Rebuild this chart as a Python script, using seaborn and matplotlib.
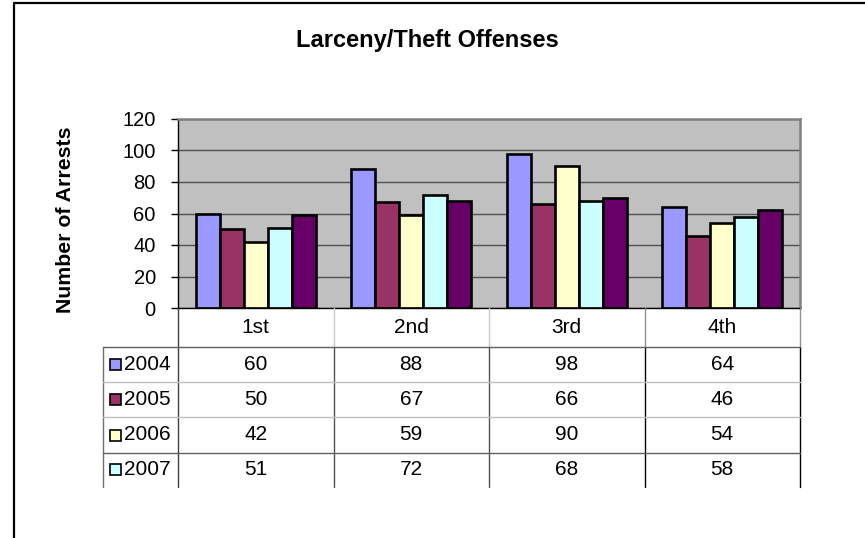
import numpy as np
import pandas as pd
import seaborn as sns
import matplotlib.pyplot as plt
import matplotlib.transforms as mtransforms
from matplotlib.lines import Line2D
from matplotlib.patches import Rectangle

# data
districts = ['1st', '2nd', '3rd', '4th']
years = ['2004', '2005', '2006', '2007', '2008']
arrests_2004 = [60, 88, 98, 64]
arrests_2005 = [50, 67, 66, 46]
arrests_2006 = [42, 59, 90, 54]
arrests_2007 = [51, 72, 68, 58]
arrests_2008 = [59, 68, 70, 62]  # last series, its table row is cut off
colors = ['#9999FF', '#993366', '#FFFFCC', '#CCFFFF', '#660066']
yticks = [0, 20, 40, 60, 80, 100, 120]

series = [arrests_2004, arrests_2005, arrests_2006, arrests_2007, arrests_2008]
df = pd.DataFrame({
    'District': districts * len(years),
    'Year': [y for y in years for _ in districts],
    'Arrests': [v for s in series for v in s],
})

sns.set_theme(style='white')
plt.rcParams['font.family'] = ['Liberation Sans', 'DejaVu Sans']
plt.rcParams['text.color'] = 'black'
plt.rcParams['axes.labelcolor'] = 'black'
FS = 15

W, H = 865, 538
fig = plt.figure(figsize=(W / 100, H / 100), dpi=100)


def fx(x):
    return x / W


def fy(y):
    return 1 - y / H


ax = fig.add_axes([fx(178), fy(308), (800 - 178) / W, (308 - 119) / H])
ax.set_facecolor('#C0C0C0')
sns.barplot(data=df, x='District', y='Arrests', hue='Year', order=districts,
            hue_order=years, palette=colors, saturation=1, width=5 / 6.5,
            edgecolor='black', linewidth=1.9, errorbar=None, legend=False, ax=ax)

ax.set_xlim(-0.5, 3.5)
ax.set_ylim(0, 120)
ax.set_yticks(yticks)
ax.yaxis.grid(True, color='#505050', linewidth=1.0)
ax.set_axisbelow(True)
ax.tick_params(axis='y', left=True, length=5, width=1, color='black',
               pad=11, labelsize=14.5, labelcolor='black')
ax.set_xticks(range(len(districts)), districts)
ax.tick_params(axis='x', bottom=False, length=0, pad=7, labelsize=FS,
               labelcolor='black')
ax.set_xlabel('')
ax.set_ylabel('Number of Arrests', fontsize=15.3, fontweight='bold', va='center')
ax.yaxis.set_label_coords((65.5 - 178) / 622, (308 - 220) / 189)
for s in ['top', 'right']:
    ax.spines[s].set_color('#808080')
    ax.spines[s].set_linewidth(1.8)
for s in ['left', 'bottom']:
    ax.spines[s].set_color('black')
    ax.spines[s].set_linewidth(1.0)

fig.text(fx(427), fy(41), 'Larceny/Theft Offenses', ha='center', va='center',
         fontsize=17, fontweight='bold')

# data table under the plot
blend = mtransforms.blended_transform_factory(ax.transData, fig.transFigure)
rows_y = [308, 346.7, 382.3, 417.3, 452.7, 487]
edges = [-0.5, 0.5, 1.5, 2.5, 3.5]
head_col = ['#404040', '#c8c8c8', '#c8c8c8', '#909090', '#909090']
body_col = ['#404040', '#505050', '#505050', '#000000', '#000000']
for x, c1, c2 in zip(edges, head_col, body_col):
    fig.add_artist(Line2D([x, x], [fy(rows_y[0]), fy(rows_y[1])], transform=blend,
                          color=c1, lw=1.0))
    fig.add_artist(Line2D([x, x], [fy(rows_y[1]), fy(rows_y[-1])], transform=blend,
                          color=c2, lw=1.0))
fig.add_artist(Line2D([fx(103), fx(103)], [fy(rows_y[1]), fy(rows_y[-1])],
                      color='#707070', lw=1.0))
for y, c in zip(rows_y[1:5], ['#606060', '#c0c0c0', '#c0c0c0', '#606060']):
    fig.add_artist(Line2D([fx(103), fx(800)], [fy(y), fy(y)], color=c, lw=1.0))

for i in range(4):
    yc = (rows_y[i + 1] + rows_y[i + 2]) / 2
    fig.add_artist(Rectangle((fx(109.5), fy(yc + 5.5)), 11 / W, 11 / H,
                             transform=fig.transFigure, facecolor=colors[i],
                             edgecolor='black', lw=1.2))
    fig.text(fx(124), fy(yc), years[i], ha='left', va='center', fontsize=FS)
    for j, v in enumerate(series[i]):
        ax.text(j, fy(yc), str(v), transform=blend, ha='center', va='center',
                fontsize=FS)

# chart area border (cut off at right and bottom)
fig.add_artist(Line2D([fx(14), 1], [fy(3), fy(3)], color='black', lw=1.6))
fig.add_artist(Line2D([fx(14), fx(14)], [fy(3), 0], color='black', lw=1.6))

fig.savefig('out.png', dpi=100)
